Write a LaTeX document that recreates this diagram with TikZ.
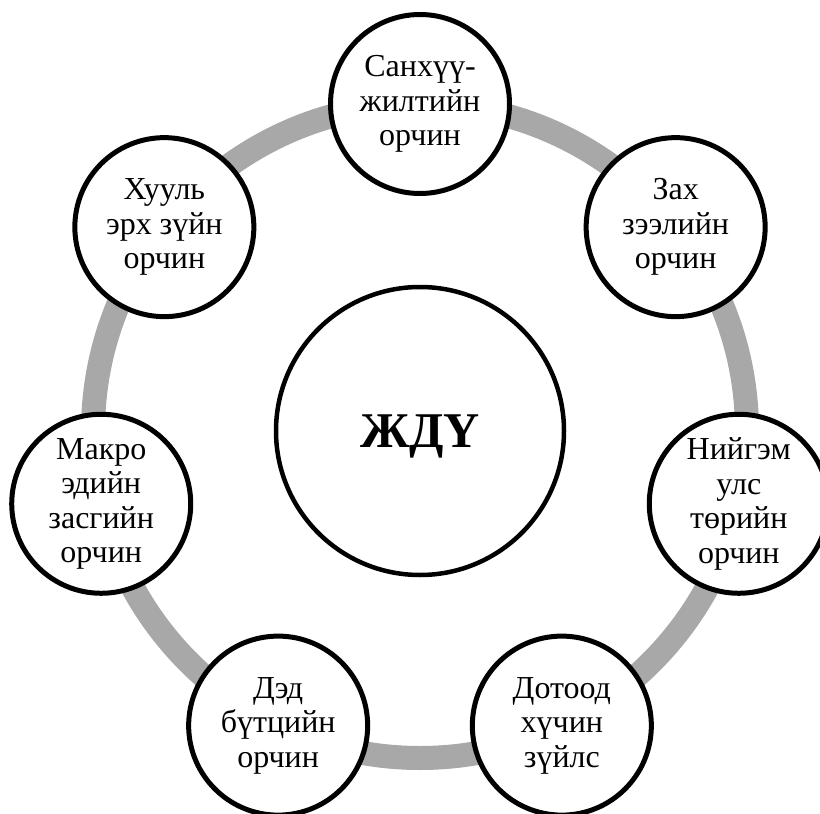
\documentclass[tikz,border=0pt]{standalone}
\usepackage{fontspec}
\setmainfont{Liberation Serif}
\usetikzlibrary{calc}
\definecolor{ringgray}{RGB}{168,168,168}
\tikzset{
  ring/.style={draw=ringgray, line width=24pt},
  factor/.style={circle, draw=black, line width=5pt, fill=white,
    minimum size=179pt, inner sep=0pt, align=center,
    font=\fontsize{32}{34.5}\selectfont},
  hub/.style={circle, draw=black, line width=4.5pt, fill=white,
    minimum size=288pt, inner sep=0pt, text depth=0pt,
    font=\bfseries\fontsize{50}{60}\selectfont}
}
\begin{document}
\begin{tikzpicture}[x=1pt,y=-1pt]
\useasboundingbox (0,0) rectangle (820,814);
\clip (0,0) rectangle (820,814);
\coordinate (o) at (420,431);
% the grey cycle behind the seven factors
\draw[ring] (o) circle [radius=327pt];
% central circle
\node[hub] (c) at (o) {ЖДҮ};
% the seven surrounding factors, clockwise from the top
\node[factor] (f1) at ($(o)+(90:327pt)$)      {Санхүү-\\жилтийн\\орчин};
\node[factor] (f2) at ($(o)+(38.57:327pt)$)   {Зах\\зээлийн\\орчин};
\node[factor] (f3) at ($(o)+(-12.86:327pt)$)  {Нийгэм\\улс\\төрийн\\орчин};
\node[factor] (f4) at ($(o)+(-64.29:327pt)$)  {Дотоод\\хүчин\\зүйлс};
\node[factor] (f5) at ($(o)+(-115.71:327pt)$) {Дэд\\бүтцийн\\орчин};
\node[factor] (f6) at ($(o)+(-167.14:327pt)$) {Макро\\эдийн\\засгийн\\орчин};
\node[factor] (f7) at ($(o)+(141.43:327pt)$)  {Хууль\\эрх зүйн\\орчин};
\end{tikzpicture}
\end{document}
